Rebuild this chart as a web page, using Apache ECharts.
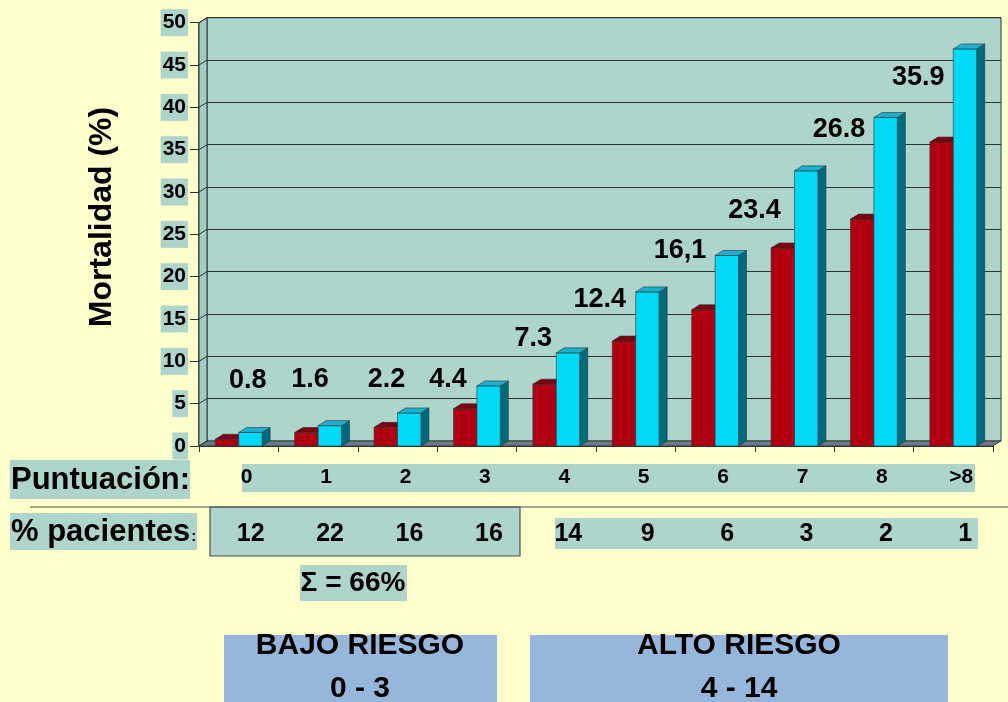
<!DOCTYPE html>
<html>
<head>
<meta charset="utf-8">
<script src="https://cdn.jsdelivr.net/npm/echarts@6/dist/echarts.min.js"></script>
<style>
  html, body { margin: 0; padding: 0; background: #FFFFCC; }
  #chart { width: 1008px; height: 702px; }
</style>
</head>
<body>
<div id="chart"></div>
<script>
// ---- data ----
const puntuacion = ['0', '1', '2', '3', '4', '5', '6', '7', '8', '>8'];
const pacientes = [12, 22, 16, 16, 14, 9, 6, 3, 2, 1];
const etiquetasMortalidad = ['0.8', '1.6', '2.2', '4.4', '7.3', '12.4', '16,1', '23.4', '26.8', '35.9'];
const mortalidadObservada = etiquetasMortalidad.map(s => parseFloat(s.replace(',', '.')));
const mortalidadEsperada = [1.6, 2.4, 3.9, 7.1, 11.0, 18.2, 22.5, 32.5, 38.8, 46.9];
const ejeY = { min: 0, max: 50, interval: 5 };

// ---- look ----
const FONT = '"Liberation Sans", Arial, Helvetica, sans-serif';
const TEAL = '#AED5CC';
const EDGE = '#2a3434';
const DX = 8, DY = -5;            // depth of the 3D walls and bars
const BAR_FRAC = 0.295;           // bar width as share of a category
const ROJO = { front: '#B00012', top: '#7C0010', side: '#5E000C' };
const CIAN = { front: '#00D9F8', top: '#1BAFCF', side: '#006B7D' };
// label placement relative to the category centre and the cyan bar top (px)
const labelShift = [[9, -52], [-8, -46], [-11, -33], [-29, -6], [-23, -14],
                    [-36, 8], [-35, -5], [-40, 40], [-35, 12], [-35, 29]];

const yTicks = [];
for (let v = ejeY.min; v <= ejeY.max; v += ejeY.interval) yTicks.push(v);

function barRenderer(col, shift) {
  return function (params, api) {
    const i = api.value(0), v = api.value(1);
    const base = api.coord([i, 0]);
    const top = api.coord([i, v]);
    const w = api.size([1, 0])[0] * BAR_FRAC;
    const x0 = top[0] + shift * w, x1 = x0 + w;
    const yT = top[1], yB = base[1];
    const st = { stroke: EDGE, lineWidth: 0.6 };
    return {
      type: 'group',
      children: [
        { type: 'polygon', shape: { points: [[x1, yT], [x1 + DX, yT + DY], [x1 + DX, yB + DY], [x1, yB]] },
          style: Object.assign({ fill: col.side }, st) },
        { type: 'rect', shape: { x: x0, y: yT, width: w, height: yB - yT },
          style: Object.assign({ fill: col.front }, st) },
        { type: 'polygon', shape: { points: [[x0, yT], [x1, yT], [x1 + DX, yT + DY], [x0 + DX, yT + DY]] },
          style: Object.assign({ fill: col.top }, st) }
      ]
    };
  };
}

function wallRenderer(params, api) {
  const cs = params.coordSys;
  const v = api.value(0);
  const p = api.coord([0, v]);
  const x = cs.x, yTop = cs.y, yBot = cs.y + cs.height, xR = cs.x + cs.width;
  const children = [];
  if (params.dataIndex === 0) {
    children.push({ type: 'polygon',
      shape: { points: [[x, yTop], [x + DX, yTop + DY], [x + DX, yBot + DY], [x, yBot]] },
      style: { fill: '#A4CBC2', stroke: EDGE, lineWidth: 1 } });
    children.push({ type: 'polygon',
      shape: { points: [[x, yBot], [xR, yBot], [xR + DX, yBot + DY], [x + DX, yBot + DY]] },
      style: { fill: '#6D7888', stroke: EDGE, lineWidth: 0.8 } });
  }
  children.push({ type: 'line', shape: { x1: x, y1: p[1], x2: x + DX, y2: p[1] + DY },
    style: { stroke: EDGE, lineWidth: 1 } });
  return { type: 'group', children };
}

function labelRenderer(params, api) {
  const i = api.value(0);
  const p = api.coord([i, api.value(1)]);
  const s = labelShift[i];
  return {
    type: 'text',
    x: p[0] + s[0], y: p[1] + s[1],
    style: { text: etiquetasMortalidad[i], fontSize: 27, fontWeight: 'bold', fontFamily: FONT,
             fill: '#000', align: 'center', verticalAlign: 'middle' }
  };
}

const chart = echarts.init(document.getElementById('chart'), null, { renderer: 'canvas' });

const hiddenCat = { type: 'category', data: puntuacion, axisLine: { show: false }, axisTick: { show: false },
                    axisLabel: { show: false }, splitLine: { show: false } };

const option = {
  backgroundColor: '#FFFFCC',
  animation: false,
  grid: [
    { left: 199, top: 22.7, right: 15, bottom: 256, containLabel: false },
    { left: 199 + DX, top: 22.7 + DY, right: 15 - DX, bottom: 256 - DY, show: true,
      backgroundColor: TEAL, borderColor: EDGE, borderWidth: 1, z: 0 }
  ],
  xAxis: [
    { type: 'category', gridIndex: 0, data: puntuacion, boundaryGap: true,
      axisLine: { show: true, lineStyle: { color: EDGE, width: 1 } },
      axisTick: { show: true, length: 6, lineStyle: { color: EDGE } },
      axisLabel: { show: false }, z: 3 },
    Object.assign({ gridIndex: 1 }, hiddenCat),
    { type: 'category', gridIndex: 0, data: puntuacion, position: 'bottom',
      axisLine: { show: false }, axisTick: { show: false },
      axisLabel: { interval: 0, margin: 21, padding: [0, 0, 0, 16], fontSize: 21, fontWeight: 'bold',
                   fontFamily: FONT, color: '#000' } },
    { type: 'category', gridIndex: 0, data: pacientes.map(String), position: 'bottom',
      axisLine: { show: false }, axisTick: { show: false },
      axisLabel: { interval: 0, margin: 76, padding: [0, 0, 0, 24], fontSize: 25, fontWeight: 'bold',
                   fontFamily: FONT, color: '#000' } }
  ],
  yAxis: [
    { type: 'value', gridIndex: 0, min: ejeY.min, max: ejeY.max, interval: ejeY.interval,
      axisLine: { show: true, lineStyle: { color: EDGE, width: 1.5 } },
      axisTick: { show: true, length: 9, lineStyle: { color: EDGE } },
      splitLine: { show: false },
      axisLabel: { margin: 11, fontSize: 21, fontWeight: 'bold', fontFamily: FONT, color: '#000',
                   backgroundColor: TEAL, padding: [3, 2, 3, 2] } },
    { type: 'value', gridIndex: 1, min: ejeY.min, max: ejeY.max, interval: ejeY.interval,
      axisLine: { show: false }, axisTick: { show: false }, axisLabel: { show: false },
      splitLine: { show: true, lineStyle: { color: EDGE, width: 1 } } }
  ],
  series: [
    { type: 'custom', name: 'paredes', xAxisIndex: 0, yAxisIndex: 0, z: 1, silent: true,
      data: yTicks.map(v => [v]), encode: { y: 0 }, renderItem: wallRenderer, clip: false },
    { type: 'custom', name: 'Mortalidad observada', xAxisIndex: 0, yAxisIndex: 0, z: 4,
      data: mortalidadObservada.map((v, i) => [i, v]), encode: { x: 0, y: 1 },
      renderItem: barRenderer(ROJO, -1), clip: false },
    { type: 'custom', name: 'Mortalidad esperada', xAxisIndex: 0, yAxisIndex: 0, z: 5,
      data: mortalidadEsperada.map((v, i) => [i, v]), encode: { x: 0, y: 1 },
      renderItem: barRenderer(CIAN, 0), clip: false },
    { type: 'custom', name: 'etiquetas', xAxisIndex: 0, yAxisIndex: 0, z: 6, silent: true,
      data: mortalidadEsperada.map((v, i) => [i, v]), encode: { x: 0, y: 1 },
      renderItem: labelRenderer, clip: false }
  ],
  graphic: [
    // axis title
    { type: 'text', x: 102, y: 217, rotation: Math.PI / 2, z: 10,
      style: { text: 'Mortalidad (%)', fontSize: 32, fontWeight: 'bold', fontFamily: FONT, fill: '#000',
               align: 'center', verticalAlign: 'middle' } },
    // score row
    { type: 'rect', z: 0, shape: { x: 10, y: 460, width: 180, height: 39 }, style: { fill: TEAL } },
    { type: 'text', x: 11, y: 480, z: 10,
      style: { text: 'Puntuación:', fontSize: 31, fontWeight: 'bold', fontFamily: FONT, fill: '#000',
               align: 'left', verticalAlign: 'middle' } },
    { type: 'rect', z: 0, shape: { x: 242, y: 464, width: 733, height: 28 }, style: { fill: TEAL } },
    // separator
    { type: 'line', z: 1, shape: { x1: 30, y1: 507, x2: 1008, y2: 507 }, style: { stroke: '#4a4f4f', lineWidth: 1.2 } },
    // patients row
    { type: 'rect', z: 0, shape: { x: 10, y: 513, width: 187, height: 37 }, style: { fill: TEAL } },
    { type: 'text', x: 11, y: 532, z: 10,
      style: { text: '{a|% pacientes}{b|:}', fontFamily: FONT, fill: '#000', align: 'left', verticalAlign: 'middle',
               rich: { a: { fontSize: 31, fontWeight: 'bold', fontFamily: FONT, fill: '#000' },
                       b: { fontSize: 15, fontWeight: 'bold', fontFamily: FONT, fill: '#000', padding: [10, 0, 0, 1] } } } },
    { type: 'rect', z: 0, shape: { x: 210, y: 507, width: 310, height: 49 },
      style: { fill: TEAL, stroke: '#4a4f4f', lineWidth: 1.2 } },
    { type: 'rect', z: 0, shape: { x: 555, y: 518, width: 423, height: 31 }, style: { fill: TEAL } },
    // sum
    { type: 'rect', z: 0, shape: { x: 300, y: 565, width: 107, height: 36 }, style: { fill: TEAL } },
    { type: 'text', x: 353, y: 583, z: 10,
      style: { text: 'Σ = 66%', fontSize: 28, fontWeight: 'bold', fontFamily: FONT, fill: '#000',
               align: 'center', verticalAlign: 'middle' } },
    // risk groups
    { type: 'rect', z: 0, shape: { x: 224, y: 635, width: 273, height: 70 }, style: { fill: '#96B7DB' } },
    { type: 'text', x: 360, y: 646, z: 10,
      style: { text: 'BAJO RIESGO', fontSize: 30, fontWeight: 'bold', fontFamily: FONT, fill: '#000',
               align: 'center', verticalAlign: 'middle' } },
    { type: 'text', x: 360, y: 689, z: 10,
      style: { text: '0 - 3', fontSize: 30, fontWeight: 'bold', fontFamily: FONT, fill: '#000',
               align: 'center', verticalAlign: 'middle' } },
    { type: 'rect', z: 0, shape: { x: 530, y: 635, width: 418, height: 70 }, style: { fill: '#96B7DB' } },
    { type: 'text', x: 739, y: 646, z: 10,
      style: { text: 'ALTO RIESGO', fontSize: 30, fontWeight: 'bold', fontFamily: FONT, fill: '#000',
               align: 'center', verticalAlign: 'middle' } },
    { type: 'text', x: 739, y: 689, z: 10,
      style: { text: '4 - 14', fontSize: 30, fontWeight: 'bold', fontFamily: FONT, fill: '#000',
               align: 'center', verticalAlign: 'middle' } }
  ]
};

chart.setOption(option);
</script>
</body>
</html>
